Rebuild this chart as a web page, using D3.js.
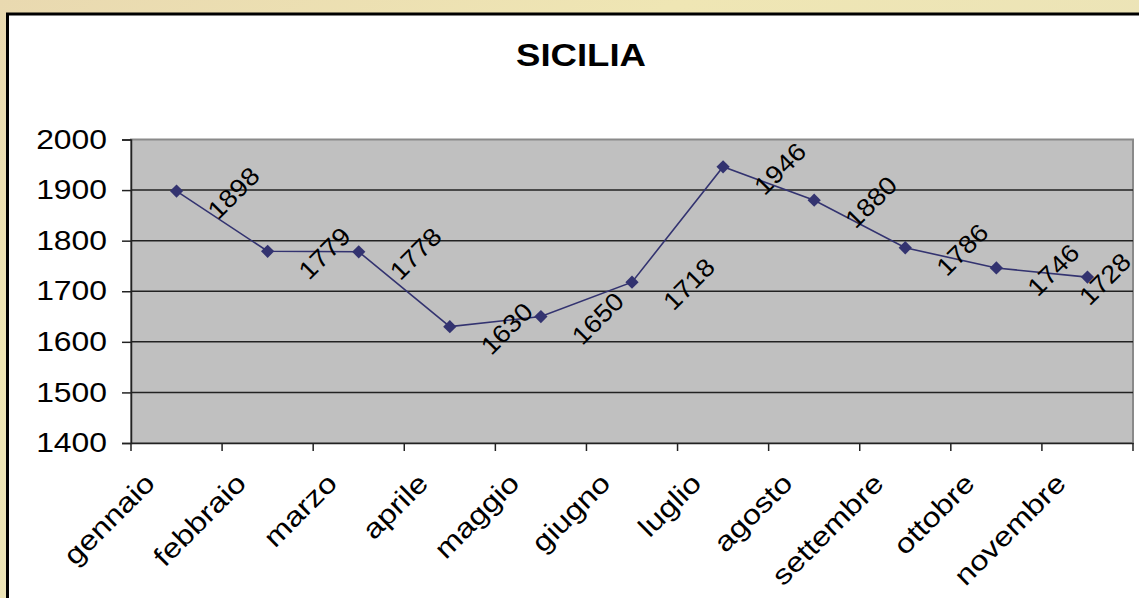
<!DOCTYPE html>
<html>
<head>
<meta charset="utf-8">
<script src="https://cdn.jsdelivr.net/npm/d3@7"></script>
<style>
  body { margin: 0; overflow: hidden; }
  text { font-family: "Liberation Sans", Arial, sans-serif; fill: #000; }
</style>
</head>
<body>
<script>
  const categories = ["gennaio", "febbraio", "marzo", "aprile", "maggio", "giugno",
                      "luglio", "agosto", "settembre", "ottobre", "novembre"];
  const values = [1898, 1779, 1778, 1630, 1650, 1718, 1946, 1880, 1786, 1746, 1728];
  const yTicks = [1400, 1500, 1600, 1700, 1800, 1900, 2000];

  const w = 1139;
  const h = 598;
  const stretch = "scale(1.18,1)";  // the original font renders wide

  const svg = d3.select("body")
                .append("svg")
                .attr("width", w)
                .attr("height", h);

  // parchment-like page background
  const grad = svg.append("defs").append("linearGradient")
                  .attr("id", "bg").attr("x1", 0).attr("y1", 0).attr("x2", 1).attr("y2", 1);
  grad.append("stop").attr("offset", "0%").attr("stop-color", "#e9d9b0");
  grad.append("stop").attr("offset", "30%").attr("stop-color", "#efe6b4");
  grad.append("stop").attr("offset", "60%").attr("stop-color", "#ebe3b8");
  grad.append("stop").attr("offset", "100%").attr("stop-color", "#e2dcaa");
  svg.append("rect").attr("width", w).attr("height", h).attr("fill", "url(#bg)");

  // chart frame
  svg.append("rect")
     .attr("x", 7.5).attr("y", 14)
     .attr("width", 1300).attr("height", 700)
     .attr("fill", "#fff")
     .attr("stroke", "#000")
     .attr("stroke-width", 3);

  const x = d3.scaleBand().domain(categories).range([131, 1133]);
  const y = d3.scaleLinear().domain([1400, 2000]).range([443, 139.5]);

  // plot area
  svg.append("rect")
     .attr("x", 131).attr("y", y(2000))
     .attr("width", 1133 - 131).attr("height", y(1400) - y(2000))
     .attr("fill", "#c0c0c0")
     .attr("stroke", "#8a8a8a")
     .attr("stroke-width", 2);

  // gridlines
  svg.selectAll("line.grid")
     .data(yTicks.filter(d => d > 1400 && d < 2000))
     .enter()
     .append("line")
     .attr("class", "grid")
     .attr("x1", 131).attr("x2", 1133)
     .attr("y1", d => y(d)).attr("y2", d => y(d))
     .attr("stroke", "#222")
     .attr("stroke-width", 1.5);

  // y axis
  const yAxis = svg.append("g")
     .attr("transform", "translate(131,0)")
     .call(d3.axisLeft(y).tickValues(yTicks).tickSize(9).tickFormat(d3.format("d")));
  yAxis.select(".domain").attr("stroke", "#222").attr("stroke-width", 1.5);
  yAxis.selectAll(".tick line").attr("stroke", "#222").attr("stroke-width", 1.5);
  yAxis.selectAll("text")
       .attr("x", 0)
       .attr("transform", "translate(-24,0) " + stretch)
       .style("font-size", "27px")
       .style("font-family", "'Liberation Sans', Arial, sans-serif")
       .attr("fill", "#000");

  // x axis
  const xAxis = svg.append("g")
     .attr("transform", "translate(0,443)")
     .call(d3.axisBottom(x).tickSize(0).tickFormat(""));
  xAxis.select(".domain").attr("stroke", "#222").attr("stroke-width", 1.5);
  xAxis.selectAll(".tick").remove();

  const bounds = categories.map(c => x(c)).concat([x.range()[1]]);
  svg.selectAll("line.xtick")
     .data(bounds)
     .enter()
     .append("line")
     .attr("class", "xtick")
     .attr("x1", d => d).attr("x2", d => d)
     .attr("y1", 443).attr("y2", 451)
     .attr("stroke", "#222")
     .attr("stroke-width", 1.5);

  svg.selectAll("text.cat")
     .data(categories)
     .enter()
     .append("text")
     .attr("class", "cat")
     .attr("transform", d => `translate(${x(d) + x.bandwidth() / 2 - 20},485) rotate(-45) ${stretch}`)
     .attr("text-anchor", "end")
     .attr("font-size", "27.5px")
     .text(d => d);

  // series line
  const cx = (d, i) => x(categories[i]) + x.bandwidth() / 2;
  const line = d3.line().x(cx).y(d => y(d));

  svg.append("path")
     .datum(values)
     .attr("d", line)
     .attr("fill", "none")
     .attr("stroke", "#333370")
     .attr("stroke-width", 1.6);

  svg.selectAll("path.marker")
     .data(values)
     .enter()
     .append("path")
     .attr("class", "marker")
     .attr("d", d3.symbol(d3.symbolSquare, 88))
     .attr("transform", (d, i) => `translate(${cx(d, i)},${y(d)}) rotate(45)`)
     .attr("fill", "#333370");

  // data labels
  svg.selectAll("text.lbl")
     .data(values)
     .enter()
     .append("text")
     .attr("class", "lbl")
     .attr("transform", (d, i) => `translate(${Math.min(cx(d, i) + 57, 1105)},${y(d) + 2}) rotate(-45) scale(1.1,1)`)
     .attr("text-anchor", "middle")
     .attr("dominant-baseline", "central")
     .attr("font-size", "25px")
     .text(d => d);

  // title
  svg.append("text")
     .attr("transform", `translate(581,66) ${stretch}`)
     .attr("text-anchor", "middle")
     .attr("font-size", "31px")
     .attr("font-weight", "bold")
     .text("SICILIA");
</script>
</body>
</html>
